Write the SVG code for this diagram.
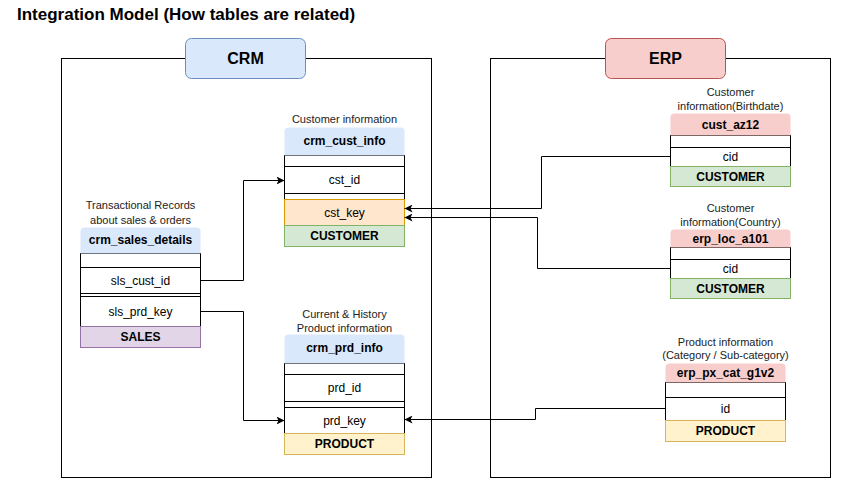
<svg xmlns="http://www.w3.org/2000/svg" width="841" height="479" viewBox="0 0 841 479">
<defs>
<style>
text{font-family:"Liberation Sans",Arial,sans-serif;fill:#000}
.title{font-size:17px;font-weight:bold}
.grp{font-size:16px;font-weight:bold;text-anchor:middle}
.desc{font-size:11px;text-anchor:middle;fill:#222}
.hdr{font-size:12px;font-weight:bold;text-anchor:middle}
.fld{font-size:12px;text-anchor:middle}
.ftr{font-size:12px;font-weight:bold;text-anchor:middle}
.cont{fill:#fff;stroke:#000;stroke-width:1}
.body{fill:#fff;stroke:#000;stroke-width:1}
.sep{stroke:#000;stroke-width:1}
.blue{fill:#dae8fc}
.red{fill:#f8cecc}
.orange{fill:#ffe6cc;stroke:#d79b00}
.green{fill:#d5e8d4;stroke:#82b366}
.purple{fill:#e1d5e7;stroke:#9673a6}
.yellow{fill:#fff2cc;stroke:#d6b656}
.conn{fill:none;stroke:#000;stroke-width:1;marker-end:url(#arr)}
</style>
<marker id="arr" viewBox="0 0 10 10" refX="10" refY="5" markerWidth="8" markerHeight="8" markerUnits="userSpaceOnUse" orient="auto">
<path d="M0,0 L10,5 L0,10 L2.5,5 Z" fill="#000"/>
</marker>
</defs>
<rect width="841" height="479" fill="#fff"/>
<text class="title" x="17" y="20">Integration Model (How tables are related)</text>

<g id="crm-container">
<rect class="cont" x="61.5" y="58.5" width="370" height="419"/>
<rect x="185.5" y="38.5" width="120" height="40" rx="6" fill="#dae8fc" stroke="#6c8ebf"/>
<text class="grp" x="245.5" y="64">CRM</text>
</g>
<g id="erp-container">
<rect class="cont" x="490.5" y="58.5" width="340" height="419"/>
<rect x="605.5" y="38.5" width="120" height="40" rx="6" fill="#f8cecc" stroke="#b85450"/>
<text class="grp" x="665.5" y="64">ERP</text>
</g>

<g id="crm_sales_details">
<text class="desc" x="140.5" y="209">Transactional Records</text>
<text class="desc" x="140.5" y="224">about sales &amp; orders</text>
<rect class="body" x="80.5" y="253.5" width="120" height="73"/>
<line class="sep" x1="80.5" y1="267.5" x2="200.5" y2="267.5"/>
<line class="sep" x1="80.5" y1="293.5" x2="200.5" y2="293.5"/>
<line class="sep" x1="80.5" y1="296.5" x2="200.5" y2="296.5"/>
<path class="blue" d="M80.5,253.5 V231.5 Q80.5,227.5 84.5,227.5 H196.5 Q200.5,227.5 200.5,231.5 V253.5 Z"/>
<text class="hdr" x="140.5" y="244">crm_sales_details</text>
<text class="fld" x="140.5" y="285">sls_cust_id</text>
<text class="fld" x="140.5" y="316">sls_prd_key</text>
<rect class="purple" x="80.5" y="326.5" width="120" height="21"/>
<text class="ftr" x="140.5" y="341">SALES</text>
</g>

<g id="crm_cust_info">
<text class="desc" x="344.5" y="123">Customer information</text>
<rect class="body" x="284.5" y="155.5" width="120" height="44"/>
<line class="sep" x1="284.5" y1="166.5" x2="404.5" y2="166.5"/>
<line class="sep" x1="284.5" y1="193.5" x2="404.5" y2="193.5"/>
<path class="blue" d="M284.5,155.5 V131.5 Q284.5,127.5 288.5,127.5 H400.5 Q404.5,127.5 404.5,131.5 V155.5 Z"/>
<text class="hdr" x="344.5" y="145">crm_cust_info</text>
<text class="fld" x="344.5" y="184">cst_id</text>
<rect class="orange" x="284.5" y="199.5" width="120" height="26"/>
<text class="fld" x="344.5" y="217">cst_key</text>
<rect class="green" x="284.5" y="225.5" width="120" height="21"/>
<text class="ftr" x="344.5" y="240">CUSTOMER</text>
</g>

<g id="crm_prd_info">
<text class="desc" x="344.5" y="318">Current &amp; History</text>
<text class="desc" x="344.5" y="332">Product information</text>
<rect class="body" x="284.5" y="363.5" width="120" height="70"/>
<line class="sep" x1="284.5" y1="374.5" x2="404.5" y2="374.5"/>
<line class="sep" x1="284.5" y1="401.5" x2="404.5" y2="401.5"/>
<line class="sep" x1="284.5" y1="407.5" x2="404.5" y2="407.5"/>
<path class="blue" d="M284.5,363.5 V338.5 Q284.5,334.5 288.5,334.5 H400.5 Q404.5,334.5 404.5,338.5 V363.5 Z"/>
<text class="hdr" x="344.5" y="352">crm_prd_info</text>
<text class="fld" x="344.5" y="392">prd_id</text>
<text class="fld" x="344.5" y="425">prd_key</text>
<rect class="yellow" x="284.5" y="433.5" width="120" height="21"/>
<text class="ftr" x="344.5" y="448">PRODUCT</text>
</g>

<g id="cust_az12">
<text class="desc" x="730.5" y="96">Customer</text>
<text class="desc" x="730.5" y="110">information(Birthdate)</text>
<rect class="body" x="670.5" y="135.5" width="120" height="31"/>
<line class="sep" x1="670.5" y1="147.5" x2="790.5" y2="147.5"/>
<path class="red" d="M670.5,135.5 V117.5 Q670.5,113.5 674.5,113.5 H786.5 Q790.5,113.5 790.5,117.5 V135.5 Z"/>
<text class="hdr" x="730.5" y="129">cust_az12</text>
<text class="fld" x="730.5" y="161">cid</text>
<rect class="green" x="670.5" y="166.5" width="120" height="20"/>
<text class="ftr" x="730.5" y="181">CUSTOMER</text>
</g>

<g id="erp_loc_a101">
<text class="desc" x="730.5" y="212">Customer</text>
<text class="desc" x="730.5" y="226">information(Country)</text>
<rect class="body" x="670.5" y="247.5" width="120" height="31"/>
<line class="sep" x1="670.5" y1="259.5" x2="790.5" y2="259.5"/>
<path class="red" d="M670.5,247.5 V233.5 Q670.5,229.5 674.5,229.5 H786.5 Q790.5,229.5 790.5,233.5 V247.5 Z"/>
<text class="hdr" x="730.5" y="243">erp_loc_a101</text>
<text class="fld" x="730.5" y="273">cid</text>
<rect class="green" x="670.5" y="278.5" width="120" height="20"/>
<text class="ftr" x="730.5" y="293">CUSTOMER</text>
</g>

<g id="erp_px_cat_g1v2">
<text class="desc" x="725.5" y="346">Product information</text>
<text class="desc" x="725.5" y="359">(Category / Sub-category)</text>
<rect class="body" x="665.5" y="382.5" width="120" height="38"/>
<line class="sep" x1="665.5" y1="397.5" x2="785.5" y2="397.5"/>
<path class="red" d="M665.5,382.5 V367.5 Q665.5,363.5 669.5,363.5 H781.5 Q785.5,363.5 785.5,367.5 V382.5 Z"/>
<text class="hdr" x="725.5" y="377">erp_px_cat_g1v2</text>
<text class="fld" x="725.5" y="413">id</text>
<rect class="yellow" x="665.5" y="420.5" width="120" height="21"/>
<text class="ftr" x="725.5" y="435">PRODUCT</text>
</g>

<g id="connectors">
<path class="conn" d="M200.5,280.5 H243.5 V180.5 H284.5"/>
<path class="conn" d="M200.5,311.5 H243.5 V420.5 H284.5"/>
<path class="conn" d="M670.5,156.5 H541.5 V208.5 H404.5"/>
<path class="conn" d="M670.5,268.5 H537.5 V217.5 H404.5"/>
<path class="conn" d="M665.5,408.5 H535.5 V419.5 H404.5"/>
</g>
</svg>
